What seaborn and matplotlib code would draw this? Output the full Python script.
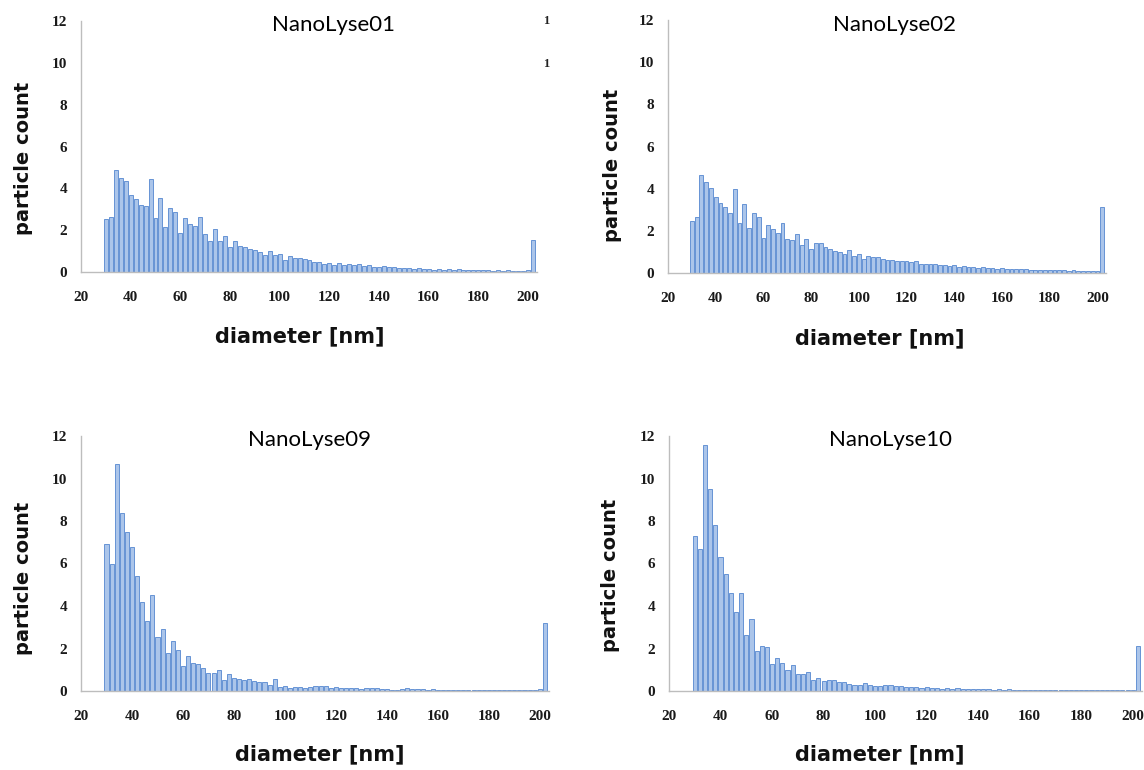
import numpy as np
import pandas as pd
import matplotlib
matplotlib.use("Agg")
import matplotlib.pyplot as plt
import seaborn as sns

# Bin centres of the size histogram (2 nm bins, last bin collects > 200 nm)
diameter_nm = list(range(30, 204, 2))

# Particle counts per bin
counts_01 = [2.55, 2.65, 4.9, 4.5, 4.35, 3.7, 3.5, 3.2, 3.15, 4.45,
             2.6, 3.55, 2.15, 3.05, 2.85, 1.85, 2.6, 2.3, 2.2, 2.65,
             1.8, 1.5, 2.05, 1.5, 1.7, 1.2, 1.5, 1.25, 1.2, 1.12,
             1.07, 0.98, 0.8, 1.0, 0.8, 0.85, 0.58, 0.75, 0.65, 0.67,
             0.6, 0.56, 0.47, 0.46, 0.36, 0.45, 0.34, 0.43, 0.33,
             0.4, 0.35, 0.38, 0.3, 0.32, 0.25, 0.22, 0.28, 0.22, 0.25,
             0.2, 0.18, 0.2, 0.15, 0.18, 0.13, 0.15, 0.1, 0.12, 0.1,
             0.13, 0.1, 0.12, 0.08, 0.1, 0.09, 0.1, 0.08, 0.09, 0.07,
             0.08, 0.07, 0.08, 0.06, 0.07, 0.06, 0.08,
             1.55]

counts_02 = [2.46, 2.64, 4.65, 4.3, 4.02, 3.62, 3.3, 3.11, 2.83, 3.97,
             2.38, 3.27, 2.14, 2.83, 2.67, 1.64, 2.3, 2.11, 1.9, 2.35,
             1.6, 1.56, 1.84, 1.32, 1.6, 1.13, 1.43, 1.4, 1.24, 1.13,
             1.05, 0.99, 0.92, 1.08, 0.8, 0.92, 0.65, 0.83, 0.76, 0.76,
             0.65, 0.63, 0.6, 0.58, 0.56, 0.56, 0.51, 0.56, 0.41, 0.44,
             0.41,
             0.42, 0.38, 0.4, 0.35, 0.36, 0.3, 0.32, 0.28, 0.3, 0.25,
             0.27, 0.23, 0.24, 0.2, 0.22, 0.2, 0.18, 0.2, 0.17, 0.18,
             0.15, 0.16, 0.14, 0.15, 0.13, 0.14, 0.12, 0.13, 0.11, 0.12,
             0.1, 0.11, 0.1, 0.09, 0.08,
             3.15]

counts_09 = [6.9, 6.0, 10.7, 8.4, 7.5, 6.8, 5.4, 4.2, 3.3, 4.5,
             2.55, 2.9, 1.8, 2.35, 1.95, 1.2, 1.65, 1.33, 1.25, 1.09,
             0.86, 0.83, 0.98, 0.51, 0.78, 0.62, 0.58, 0.51, 0.55, 0.46,
             0.42, 0.42,
             0.3, 0.55, 0.2, 0.25, 0.15, 0.2, 0.18, 0.12, 0.2, 0.25,
             0.22, 0.25, 0.15, 0.18, 0.12, 0.15, 0.13, 0.15, 0.1, 0.15,
             0.12, 0.16, 0.1, 0.08, 0.06, 0.05, 0.1, 0.12, 0.1, 0.08,
             0.1, 0.06, 0.08, 0.05, 0.07, 0.06, 0.05, 0.06, 0.05, 0.04,
             0.06, 0.05, 0.04, 0.06, 0.05, 0.04, 0.05, 0.04, 0.05, 0.04,
             0.04, 0.05, 0.04, 0.08,
             3.2]

counts_10 = [7.3, 6.7, 11.6, 9.5, 7.8, 6.3, 5.5, 4.6, 3.7, 4.6,
             2.62, 3.4, 1.88, 2.1, 2.05, 1.28, 1.57, 1.3, 1.01, 1.22,
             0.78, 0.78, 0.89, 0.54, 0.59, 0.46, 0.54, 0.54, 0.43, 0.43,
             0.34, 0.3, 0.3, 0.38, 0.27, 0.22, 0.25, 0.3, 0.27, 0.22,
             0.22, 0.17,
             0.2, 0.18, 0.15, 0.17, 0.12, 0.14, 0.1, 0.12, 0.1, 0.12,
             0.1, 0.09, 0.11, 0.08, 0.1, 0.08, 0.07, 0.09, 0.07, 0.08,
             0.06, 0.07, 0.06, 0.07, 0.05, 0.06, 0.05, 0.06, 0.05, 0.05,
             0.04, 0.05, 0.04, 0.05, 0.04, 0.04, 0.05, 0.04, 0.04, 0.03,
             0.04, 0.03, 0.04, 0.05,
             2.1]

sample_names = ["NanoLyse01", "NanoLyse02", "NanoLyse09", "NanoLyse10"]
sample_counts = [counts_01, counts_02, counts_09, counts_10]

x_ticks = [20, 40, 60, 80, 100, 120, 140, 160, 180, 200]
y_ticks = [0, 2, 4, 6, 8, 10, 12]

# Plain white style
sns.set_theme(style="white")
plt.rcParams['font.family'] = ['DejaVu Sans']

W, H = 1144, 770
fig = plt.figure(figsize=(W / 100, H / 100), dpi=100)


def px(x, y):
    # pixel position -> figure fraction
    return x / W, 1 - y / H


def box(left, top, right, bottom):
    return [left / W, 1 - bottom / H, (right - left) / W, (bottom - top) / H]


# Axes boxes (left, top, right, bottom) in pixels
axes_boxes = [(81, 21, 537, 272), (668, 20, 1106, 273),
              (81, 436, 549, 691), (669, 436, 1142, 691)]
# Where the title, y label and x label sit, in pixels
title_pos = [(333, 25), (895, 25), (310, 440), (890, 440)]
ylabel_pos = [(24, 158), (612, 165), (24, 578), (610, 575)]
xlabel_pos = [(300, 336), (880, 338), (320, 754), (880, 754)]

bar_face = '#abc5ea'
bar_edge = '#5587d0'
spine_col = '#bdbdbd'

for i, (name, counts) in enumerate(zip(sample_names, sample_counts)):
    ax = fig.add_axes(box(*axes_boxes[i]))
    df = pd.DataFrame({'diameter': diameter_nm, 'count': counts})

    # Histogram bars on a numeric x axis
    sns.barplot(data=df, x='diameter', y='count', native_scale=True,
                width=0.8, color=bar_face, saturation=1,
                edgecolor=bar_edge, linewidth=0.6, errorbar=None, ax=ax)

    ax.set_xlim(20, 203.6)
    ax.set_ylim(0, 12)
    ax.set_xticks(x_ticks)
    ax.set_yticks(y_ticks)
    ax.set_xlabel('')
    ax.set_ylabel('')

    # Only left and bottom axis lines, light grey
    sns.despine(ax=ax)
    for side in ['left', 'bottom']:
        ax.spines[side].set_color(spine_col)
        ax.spines[side].set_linewidth(1.0)

    ax.tick_params(axis='both', which='major', direction='out',
                   length=3, width=0.8, color=spine_col)
    ax.tick_params(axis='x', pad=11)
    ax.tick_params(axis='y', pad=7)
    for lab in ax.get_xticklabels() + ax.get_yticklabels():
        lab.set_fontfamily('Liberation Serif')
        lab.set_fontweight('bold')
        lab.set_fontsize(11)
        lab.set_color('#1a1a1a')

    # Title inside the plot area and the axis labels
    fig.text(*px(*title_pos[i]), name, ha='center', va='center',
             fontsize=16, family='Lato', color='#000000')
    fig.text(*px(*ylabel_pos[i]), 'particle count', rotation=90,
             ha='center', va='center', fontsize=14, fontweight='bold',
             color='#111111')
    fig.text(*px(*xlabel_pos[i]), 'diameter [nm]', ha='center',
             va='center', fontsize=15, fontweight='bold', color='#111111')

# Cropped remains of a neighbouring chart's tick labels
for yy in [21, 64]:
    fig.text(*px(546, yy), '1', ha='center', va='center', fontsize=9,
             family='Liberation Serif', fontweight='bold', color='#222222')

fig.savefig('out.png', dpi=100)
plt.close(fig)
